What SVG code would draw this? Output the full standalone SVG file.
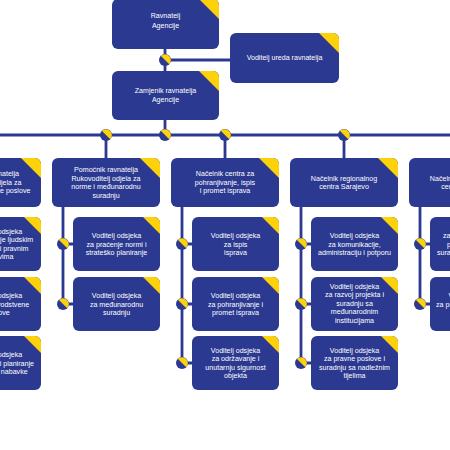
<svg xmlns="http://www.w3.org/2000/svg" xmlns:xlink="http://www.w3.org/1999/xlink" width="450" height="450" viewBox="0 0 450 450">
<defs>
<style>
.box{fill:#2b3990}
.tri{fill:#fdd20b}
.ln{stroke:#2b3990;stroke-width:2.8;fill:none}
text{font-family:"Liberation Sans",Arial,sans-serif;font-size:7.1px;fill:#ffffff;text-anchor:middle}
</style>
<g id="jn"><circle r="6" fill="#2b3990"/><path d="M-4.24,-4.24 A6,6 0 0 1 4.24,4.24 Z" fill="#fdd20b"/></g>
</defs>
<rect width="450" height="450" fill="#ffffff"/>
<g id="connectors">
<path class="ln" d="M165,49 V71 M165,60 H230 M165,120 V135 M-20,135 H470"/>
<path class="ln" d="M106,135 V158 M225,135 V158 M344,135 V158 M463,135 V158 M-13,135 V158"/>
<path class="ln" d="M-56,207 V363 M-56,244 H-46 M-56,304 H-46 M-56,363 H-46"/>
<path class="ln" d="M63,207 V304 M63,244 H73 M63,304 H73"/>
<path class="ln" d="M182,207 V363 M182,244 H192 M182,304 H192 M182,363 H192"/>
<path class="ln" d="M301,207 V363 M301,244 H311 M301,304 H311 M301,363 H311"/>
<path class="ln" d="M420,207 V304 M420,244 H430 M420,304 H430"/>
<use xlink:href="#jn" x="165" y="60"/>
<use xlink:href="#jn" x="106" y="135"/>
<use xlink:href="#jn" x="165" y="135"/>
<use xlink:href="#jn" x="225" y="135"/>
<use xlink:href="#jn" x="344" y="135"/>
<use xlink:href="#jn" x="63" y="244"/>
<use xlink:href="#jn" x="63" y="304"/>
<use xlink:href="#jn" x="182" y="244"/>
<use xlink:href="#jn" x="182" y="304"/>
<use xlink:href="#jn" x="182" y="363"/>
<use xlink:href="#jn" x="301" y="244"/>
<use xlink:href="#jn" x="301" y="304"/>
<use xlink:href="#jn" x="301" y="363"/>
<use xlink:href="#jn" x="420" y="244"/>
<use xlink:href="#jn" x="420" y="304"/>
</g>
<g id="ravnatelj">
<rect class="box" x="112" y="-1" width="107" height="50" rx="6"/>
<path class="tri" d="M199,-1 H213 A6,6 0 0 1 219,5 V19 Z"/>
<text x="165.5" y="18.2">Ravnatelj</text>
<text x="165.5" y="27.5">Agencije</text>
</g>
<g id="ured">
<rect class="box" x="230" y="33" width="109" height="50" rx="6"/>
<path class="tri" d="M319,33 H333 A6,6 0 0 1 339,39 V53 Z"/>
<text x="284.5" y="60.2">Voditelj ureda ravnatelja</text>
</g>
<g id="zamjenik">
<rect class="box" x="112" y="71" width="107" height="49" rx="6"/>
<path class="tri" d="M199,71 H213 A6,6 0 0 1 219,77 V91 Z"/>
<text x="165.5" y="92.5">Zamjenik ravnatelja</text>
<text x="165.5" y="101.5">Agencije</text>
</g>
<g id="pomocnik-opci">
<rect class="box" x="-67" y="158" width="108" height="49" rx="6"/>
<path class="tri" d="M21,158 H35 A6,6 0 0 1 41,164 V178 Z"/>
<text x="-13" y="176.2">Pomoćnik ravnatelja</text>
<text x="-13" y="184.8">Rukovoditelj odjela za</text>
<text x="-13" y="193.4">pravne i financijske poslove</text>
</g>
<g id="odsjek-ljudski">
<rect class="box" x="-46" y="217" width="87" height="54" rx="6"/>
<path class="tri" d="M24,217 H35 A6,6 0 0 1 41,223 V234 Z"/>
<text x="-2.5" y="233.6">Voditelj odsjeka</text>
<text x="-2.5" y="242.2">za upravljanje ljudskim</text>
<text x="-2.5" y="250.8">resursima i pravnim</text>
<text x="-2.5" y="259.4">poslovima</text>
</g>
<g id="odsjek-racunovodstvo">
<rect class="box" x="-46" y="277" width="87" height="54" rx="6"/>
<path class="tri" d="M24,277 H35 A6,6 0 0 1 41,283 V294 Z"/>
<text x="-2.5" y="297.9">Voditelj odsjeka</text>
<text x="-2.5" y="306.5">za računovodstvene</text>
<text x="-2.5" y="315.1">poslove</text>
</g>
<g id="odsjek-nabavke">
<rect class="box" x="-46" y="336" width="87" height="54" rx="6"/>
<path class="tri" d="M24,336 H35 A6,6 0 0 1 41,342 V353 Z"/>
<text x="-2.5" y="356.9">Voditelj odsjeka</text>
<text x="-2.5" y="365.5">za praćenje i planiranje</text>
<text x="-2.5" y="374.1">realizacije nabavke</text>
</g>
<g id="pomocnik-norme">
<rect class="box" x="52" y="158" width="108" height="49" rx="6"/>
<path class="tri" d="M140,158 H154 A6,6 0 0 1 160,164 V178 Z"/>
<text x="106" y="171.9">Pomoćnik ravnatelja</text>
<text x="106" y="180.5">Rukovoditelj odjela za</text>
<text x="106" y="189.1">norme i međunarodnu</text>
<text x="106" y="197.7">suradnju</text>
</g>
<g id="odsjek-norme">
<rect class="box" x="73" y="217" width="87" height="54" rx="6"/>
<path class="tri" d="M143,217 H154 A6,6 0 0 1 160,223 V234 Z"/>
<text x="116.5" y="237.9">Voditelj odsjeka</text>
<text x="116.5" y="246.5">za praćenje normi i</text>
<text x="116.5" y="255.1">strateško planiranje</text>
</g>
<g id="odsjek-medjunarodna">
<rect class="box" x="73" y="277" width="87" height="54" rx="6"/>
<path class="tri" d="M143,277 H154 A6,6 0 0 1 160,283 V294 Z"/>
<text x="116.5" y="297.9">Voditelj odsjeka</text>
<text x="116.5" y="306.5">za međunarodnu</text>
<text x="116.5" y="315.1">suradnju</text>
</g>
<g id="centar-pohranjivanje">
<rect class="box" x="171" y="158" width="108" height="49" rx="6"/>
<path class="tri" d="M259,158 H273 A6,6 0 0 1 279,164 V178 Z"/>
<text x="225" y="176.2">Načelnik centra za</text>
<text x="225" y="184.8">pohranjivanje, ispis</text>
<text x="225" y="193.4">i promet isprava</text>
</g>
<g id="odsjek-ispis">
<rect class="box" x="192" y="217" width="87" height="54" rx="6"/>
<path class="tri" d="M262,217 H273 A6,6 0 0 1 279,223 V234 Z"/>
<text x="235.5" y="237.9">Voditelj odsjeka</text>
<text x="235.5" y="246.5">za ispis</text>
<text x="235.5" y="255.1">isprava</text>
</g>
<g id="odsjek-pohranjivanje">
<rect class="box" x="192" y="277" width="87" height="54" rx="6"/>
<path class="tri" d="M262,277 H273 A6,6 0 0 1 279,283 V294 Z"/>
<text x="235.5" y="297.9">Voditelj odsjeka</text>
<text x="235.5" y="306.5">za pohranjivanje i</text>
<text x="235.5" y="315.1">promet isprava</text>
</g>
<g id="odsjek-odrzavanje">
<rect class="box" x="192" y="336" width="87" height="54" rx="6"/>
<path class="tri" d="M262,336 H273 A6,6 0 0 1 279,342 V353 Z"/>
<text x="235.5" y="352.6">Voditelj odsjeka</text>
<text x="235.5" y="361.2">za održavanje i</text>
<text x="235.5" y="369.8">unutarnju sigurnost</text>
<text x="235.5" y="378.4">objekta</text>
</g>
<g id="centar-sarajevo">
<rect class="box" x="290" y="158" width="108" height="49" rx="6"/>
<path class="tri" d="M378,158 H392 A6,6 0 0 1 398,164 V178 Z"/>
<text x="344" y="180.5">Načelnik regionalnog</text>
<text x="344" y="189.1">centra Sarajevo</text>
</g>
<g id="odsjek-komunikacije">
<rect class="box" x="311" y="217" width="87" height="54" rx="6"/>
<path class="tri" d="M381,217 H392 A6,6 0 0 1 398,223 V234 Z"/>
<text x="354.5" y="237.9">Voditelj odsjeka</text>
<text x="354.5" y="246.5">za komunikacije,</text>
<text x="354.5" y="255.1">administraciju i potporu</text>
</g>
<g id="odsjek-razvoj">
<rect class="box" x="311" y="277" width="87" height="54" rx="6"/>
<path class="tri" d="M381,277 H392 A6,6 0 0 1 398,283 V294 Z"/>
<text x="354.5" y="288.6">Voditelj odsjeka</text>
<text x="354.5" y="297.2">za razvoj projekta i</text>
<text x="354.5" y="305.8">suradnju sa</text>
<text x="354.5" y="314.4">međunarodnim</text>
<text x="354.5" y="323">institucijama</text>
</g>
<g id="odsjek-pravni">
<rect class="box" x="311" y="336" width="87" height="54" rx="6"/>
<path class="tri" d="M381,336 H392 A6,6 0 0 1 398,342 V353 Z"/>
<text x="354.5" y="352.6">Voditelj odsjeka</text>
<text x="354.5" y="361.2">za pravne poslove i</text>
<text x="354.5" y="369.8">suradnju sa nadležnim</text>
<text x="354.5" y="378.4">tijelima</text>
</g>
<g id="centar-mostar">
<rect class="box" x="409" y="158" width="108" height="49" rx="6"/>
<path class="tri" d="M497,158 H511 A6,6 0 0 1 517,164 V178 Z"/>
<text x="463" y="180.5">Načelnik regionalnog</text>
<text x="463" y="189.1">centra Mostar</text>
</g>
<g id="odsjek-mostar-1">
<rect class="box" x="430" y="217" width="87" height="54" rx="6"/>
<path class="tri" d="M500,217 H511 A6,6 0 0 1 517,223 V234 Z"/>
<text x="443" y="237.9" style="text-anchor:start">za administraciju,</text>
<text x="447" y="246.5" style="text-anchor:start">pravne poslove i</text>
<text x="437" y="255.1" style="text-anchor:start">suradnju sa institucijama</text>
</g>
<g id="odsjek-mostar-2">
<rect class="box" x="430" y="277" width="87" height="54" rx="6"/>
<path class="tri" d="M500,277 H511 A6,6 0 0 1 517,283 V294 Z"/>
<text x="448.5" y="297.9" style="text-anchor:start">Voditelj odsjeka</text>
<text x="436" y="306.5" style="text-anchor:start">za pravne i kadrovske</text>
<text x="473.5" y="315.1">poslove</text>
</g>
</svg>
